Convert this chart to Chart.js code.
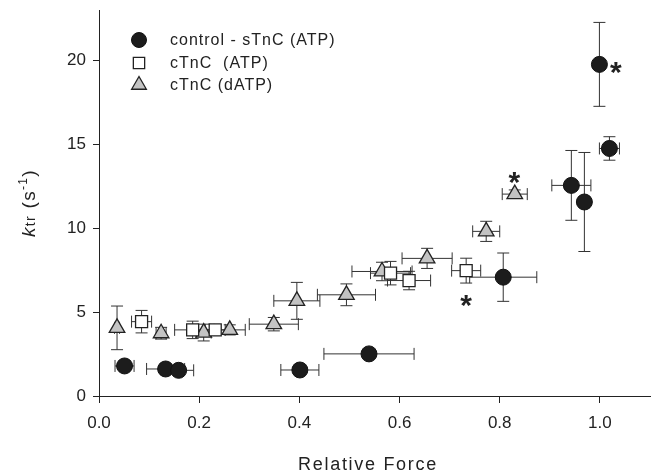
<html><head><meta charset="utf-8">
<script src="https://cdn.jsdelivr.net/npm/chart.js"></script>
<style>
 body { margin:0; background:#fff; }
 canvas { display:block; }
</style>
</head>
<body>
<canvas id="myChart" width="652" height="476"></canvas>
<script>
// series names (legend order)
var seriesNames = ['control - sTnC (ATP)', 'cTnC  (ATP)', 'cTnC (dATP)'];

// control - sTnC (ATP)
var ctrlX    = [0.051, 0.133, 0.159, 0.401, 0.539, 0.807, 0.943, 0.969, 0.999, 1.019];
var ctrlY    = [1.79, 1.61, 1.53, 1.55, 2.51, 7.08, 12.55, 11.56, 19.76, 14.75];
var ctrlXErr = [0.019, 0.038, 0.030, 0.038, 0.090, 0.067, 0.039, 0.010, 0.004, 0.020];
var ctrlYErr = [0.15, 0.10, 0.10, 0.10, 0.20, 1.44, 2.08, 2.95, 2.50, 0.70];

// cTnC (ATP)
var ctnX    = [0.085, 0.187, 0.232, 0.582, 0.619, 0.733];
var ctnY    = [4.43, 3.94, 3.94, 7.32, 6.88, 7.47];
var ctnXErr = [0.020, 0.036, 0.020, 0.040, 0.043, 0.029];
var ctnYErr = [0.67, 0.52, 0.30, 0.70, 0.55, 0.74];

// cTnC (dATP)
var datpX    = [0.036, 0.124, 0.209, 0.261, 0.349, 0.395, 0.494, 0.565, 0.655, 0.773, 0.830];
var datpY    = [4.06, 3.74, 3.78, 3.94, 4.28, 5.67, 6.03, 7.42, 8.20, 9.81, 12.03];
var datpXErr = [0.005, 0.010, 0.015, 0.031, 0.049, 0.046, 0.058, 0.060, 0.050, 0.027, 0.025];
var datpYErr = [1.30, 0.35, 0.50, 0.30, 0.40, 1.10, 0.65, 0.55, 0.60, 0.60, 0.25];

// significance markers
var starX = [1.032, 0.829, 0.733];
var starY = [19.56, 13.01, 5.64];

// axes
var xTicks = [0, 0.2, 0.4, 0.6, 0.8, 1.0];
var yTicks = [0, 5, 10, 15, 20];
var xTitle = 'Relative Force';

function pts(xs, ys) {
  return xs.map(function (x, i) { return { x: x, y: ys[i] }; });
}

var textCol = '#222';
var fontFam = '"Liberation Sans", Arial, sans-serif';

var errorBars = {
  id: 'errorBars',
  beforeDatasetsDraw: function (chart) {
    var ctx = chart.ctx, xs = chart.scales.x, ys = chart.scales.y;
    ctx.save();
    ctx.strokeStyle = '#333';
    ctx.lineWidth = 1;
    chart.data.datasets.forEach(function (ds) {
      ds.data.forEach(function (p, i) {
        var px = xs.getPixelForValue(p.x), py = ys.getPixelForValue(p.y);
        var ex = ds.xErr[i], ey = ds.yErr[i], c = 6;
        var x0 = xs.getPixelForValue(p.x - ex), x1 = xs.getPixelForValue(p.x + ex);
        var y0 = ys.getPixelForValue(p.y - ey), y1 = ys.getPixelForValue(p.y + ey);
        ctx.beginPath();
        ctx.moveTo(x0, py); ctx.lineTo(x1, py);
        ctx.moveTo(x0, py - c); ctx.lineTo(x0, py + c);
        ctx.moveTo(x1, py - c); ctx.lineTo(x1, py + c);
        ctx.moveTo(px, y0); ctx.lineTo(px, y1);
        ctx.moveTo(px - c, y0); ctx.lineTo(px + c, y0);
        ctx.moveTo(px - c, y1); ctx.lineTo(px + c, y1);
        ctx.stroke();
      });
    });
    ctx.restore();
  }
};

var decorations = {
  id: 'decorations',
  afterDraw: function (chart) {
    var ctx = chart.ctx, xs = chart.scales.x, ys = chart.scales.y;
    ctx.save();
    ctx.fillStyle = textCol;

    // asterisks
    ctx.font = 'bold 30px ' + fontFam;
    ctx.textAlign = 'center';
    ctx.textBaseline = 'alphabetic';
    starX.forEach(function (sx, i) {
      var m = ctx.measureText('*');
      var mid = (m.actualBoundingBoxAscent - m.actualBoundingBoxDescent) / 2;
      ctx.fillText('*', xs.getPixelForValue(sx), ys.getPixelForValue(starY[i]) + mid);
    });

    // legend
    var rows = [40, 63, 85];
    chart.data.datasets.forEach(function (ds, i) {
      ctx.fillStyle = ds.backgroundColor;
      ctx.strokeStyle = ds.borderColor;
      ctx.lineWidth = ds.borderWidth;
      Chart.helpers.drawPoint(ctx, {
        pointStyle: ds.pointStyle, radius: ds.legendRadius, rotation: 0, borderWidth: ds.borderWidth
      }, 139, rows[i]);
      ctx.fillStyle = textCol;
      ctx.font = '16px ' + fontFam;
      ctx.letterSpacing = '1px';
      ctx.textAlign = 'left';
      ctx.textBaseline = 'middle';
      ctx.fillText(seriesNames[i], 170, rows[i] + 1);
    });

    // x title
    ctx.font = '18px ' + fontFam;
    ctx.letterSpacing = '1.7px';
    ctx.textAlign = 'center';
    ctx.textBaseline = 'middle';
    ctx.fillText(xTitle, 368, 465);

    // y title: k_tr (s^-1)
    ctx.translate(28, 203);
    ctx.rotate(-Math.PI / 2);
    ctx.letterSpacing = '1.3px';
    ctx.textAlign = 'left';
    ctx.textBaseline = 'alphabetic';
    var parts = [
      { t: 'k', f: 'italic 19px ', dy: 0 },
      { t: 'tr', f: '14px ', dy: 0 },
      { t: ' (s', f: '19px ', dy: 0 },
      { t: '-1', f: '12px ', dy: -8 },
      { t: ')', f: '19px ', dy: 0 }
    ];
    var total = 0;
    parts.forEach(function (p) { ctx.font = p.f + fontFam; p.w = ctx.measureText(p.t).width; total += p.w; });
    var cx = -total / 2;
    parts.forEach(function (p) {
      ctx.font = p.f + fontFam;
      ctx.fillText(p.t, cx, 7 + p.dy);
      cx += p.w;
    });
    ctx.restore();
  }
};

function noPad(s) {
  s.paddingTop = 0; s.paddingBottom = 0; s.paddingLeft = 0; s.paddingRight = 0;
}

var ctx = document.getElementById('myChart');
var myChart = new Chart(ctx, {
  type: 'scatter',
  data: {
    datasets: [{
      label: seriesNames[0],
      data: pts(ctrlX, ctrlY), xErr: ctrlXErr, yErr: ctrlYErr,
      pointStyle: 'circle', pointRadius: 8, legendRadius: 7.5,
      backgroundColor: '#1c1c1c', borderColor: '#111', borderWidth: 1
    }, {
      label: seriesNames[1],
      data: pts(ctnX, ctnY), xErr: ctnXErr, yErr: ctnYErr,
      pointStyle: 'rect', pointRadius: 8.5, legendRadius: 8,
      backgroundColor: '#fff', borderColor: '#222', borderWidth: 1.3
    }, {
      label: seriesNames[2],
      data: pts(datpX, datpY), xErr: datpXErr, yErr: datpYErr,
      pointStyle: 'triangle', pointRadius: 9, legendRadius: 8.5,
      backgroundColor: '#c3c3c3', borderColor: '#222', borderWidth: 1.3
    }]
  },
  options: {
    responsive: false,
    animation: false,
    layout: { autoPadding: false, padding: { top: 10, right: 2, left: 0, bottom: 0 } },
    plugins: { legend: { display: false }, tooltip: { enabled: false } },
    scales: {
      x: {
        type: 'linear', min: 0, max: 1.1,
        afterFit: function (s) { s.height = 80; noPad(s); },
        afterBuildTicks: function (s) { s.ticks = xTicks.map(function (v) { return { value: v }; }); },
        ticks: { callback: function (v) { return v.toFixed(1); }, font: { size: 17, family: fontFam }, color: textCol, padding: 10, maxRotation: 0 },
        grid: { drawOnChartArea: false, drawTicks: true, tickLength: 7, color: '#222' },
        border: { color: '#222', width: 1 }
      },
      y: {
        type: 'linear', min: 0, max: 23,
        afterFit: function (s) { s.width = 99; noPad(s); },
        afterBuildTicks: function (s) { s.ticks = yTicks.map(function (v) { return { value: v }; }); },
        ticks: { font: { size: 17, family: fontFam }, color: textCol, padding: 7 },
        grid: { drawOnChartArea: false, drawTicks: true, tickLength: 6, color: '#222' },
        border: { color: '#222', width: 1 }
      }
    }
  },
  plugins: [errorBars, decorations]
});
</script>
</body></html>
